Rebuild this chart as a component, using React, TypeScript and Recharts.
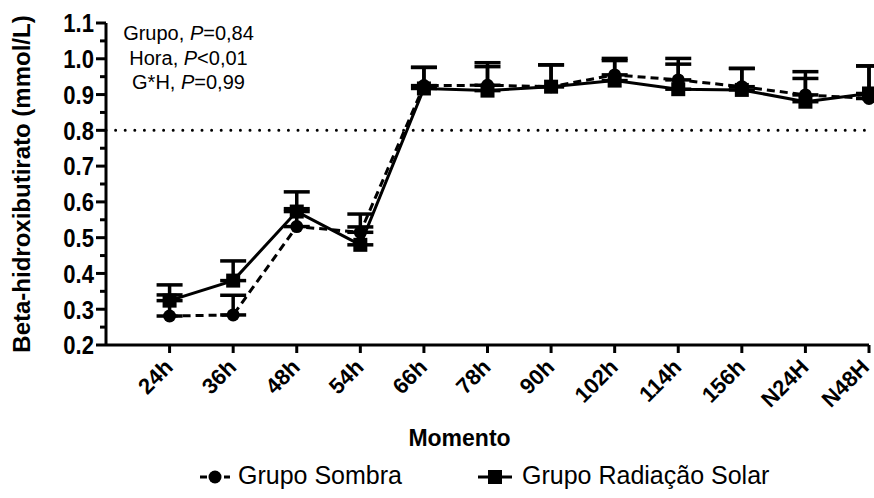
import React from 'react';
import { LineChart, Line, XAxis, YAxis, ReferenceLine, ErrorBar } from 'recharts';

const categories = ['24h', '36h', '48h', '54h', '66h', '78h', '90h', '102h', '114h', '156h', 'N24H', 'N48H'];
const sombra = [0.281, 0.284, 0.531, 0.515, 0.925, 0.926, 0.922, 0.955, 0.941, 0.922, 0.899, 0.889];
const sombraSE = [0.059, 0.055, 0.05, 0.051, 0.051, 0.063, 0.061, 0.046, 0.06, 0.051, 0.065, 0.091];
const solar = [0.324, 0.38, 0.573, 0.48, 0.917, 0.911, 0.922, 0.939, 0.915, 0.913, 0.88, 0.903];
const solarSE = [0.044, 0.055, 0.055, 0.05, 0.059, 0.067, 0.061, 0.056, 0.07, 0.06, 0.065, 0.077];
const yTicks = [0.2, 0.25, 0.3, 0.35, 0.4, 0.45, 0.5, 0.55, 0.6, 0.65, 0.7, 0.75, 0.8, 0.85, 0.9, 0.95, 1.0, 1.05, 1.1];
const xTicks = [1, 2, 3, 4, 5, 6, 7, 8, 9, 10, 11, 12];
const stats = [
    ['Grupo', '=', '0,84'],
    ['Hora', '<', '0,01'],
    ['G*H', '=', '0,99'],
];

const FONT = '"Liberation Sans", Arial, sans-serif';

const data = categories.map((c, i) => ({
    x: i + 1,
    name: c,
    sombra: sombra[i],
    sombraErr: [0, sombraSE[i]],
    solar: solar[i],
    solarErr: [0, solarSE[i]],
}));

// y ticks: long tick + label on tenths, short unlabelled tick in between
const YTick = (props: any) => {
    const { x, y, payload } = props;
    const v = payload.value;
    const major = Math.abs(v * 10 - Math.round(v * 10)) < 1e-6;
    return (
        <g>
            <line x1={major ? x + 2 : x + 6} x2={x + 12} y1={y} y2={y} stroke="#000" strokeWidth={3} />
            {major && (
                <g transform={`translate(${x},${y}) scale(0.92,1.08)`}>
                    <text x={0} y={0} dy="0.36em" textAnchor="end" fontFamily={FONT} fontWeight="bold" fontSize={24} fill="#000">
                        {v.toFixed(1)}
                    </text>
                </g>
            )}
        </g>
    );
};

const XTick = (props: any) => {
    const { x, y, payload } = props;
    return (
        <g transform={`translate(${x - 1},${y + 8}) rotate(-45)`}>
            <text x={0} y={0} dy="0.36em" textAnchor="end" fontFamily={FONT} fontWeight="bold" fontSize={22} fill="#000">
                {categories[payload.value - 1]}
            </text>
        </g>
    );
};

const CircleDot = (props: any) => {
    const { cx, cy, index } = props;
    return <circle key={`c${index}`} cx={cx} cy={cy} r={6.5} fill="#000" />;
};

const SquareDot = (props: any) => {
    const { cx, cy, index } = props;
    return <rect key={`s${index}`} x={cx - 7} y={cy - 7} width={14} height={14} fill="#000" />;
};

export default function App() {
    return (
        <div style={{ position: 'absolute', left: 0, top: 0, width: 874, height: 498, background: '#fff', fontFamily: FONT }}>
            <LineChart width={874} height={498} data={data} margin={{ top: 23, right: 5, left: 0, bottom: 0 }}>
                <XAxis
                    type="number"
                    dataKey="x"
                    domain={[0, 12]}
                    ticks={xTicks}
                    height={153}
                    tick={<XTick />}
                    tickSize={8}
                    tickMargin={2}
                    axisLine={{ stroke: '#000', strokeWidth: 3 }}
                    tickLine={{ stroke: '#000', strokeWidth: 3 }}
                    label={{ value: 'Momento', position: 'insideBottom', offset: 52, dx: -28, fill: '#000', fontWeight: 'bold', fontSize: 23, fontFamily: FONT }}
                />
                <YAxis
                    type="number"
                    domain={[0.2, 1.1]}
                    ticks={yTicks}
                    interval={0}
                    width={106}
                    tick={<YTick />}
                    tickSize={10}
                    tickMargin={2}
                    axisLine={{ stroke: '#000', strokeWidth: 3 }}
                    tickLine={{ stroke: 'none' }}
                    label={{ value: 'Beta-hidroxibutirato (mmol/L)', angle: -90, position: 'insideLeft', offset: 21, fill: '#000', fontWeight: 'bold', fontSize: 24, fontFamily: FONT, style: { textAnchor: 'middle' } }}
                />
                <ReferenceLine y={0.8} stroke="#000" strokeWidth={3} strokeDasharray="0 9.6" strokeLinecap="round" />
                <Line
                    dataKey="sombra"
                    stroke="#000"
                    strokeWidth={3}
                    strokeDasharray="8 5"
                    dot={<CircleDot />}
                    activeDot={false}
                    isAnimationActive={false}
                >
                    <ErrorBar dataKey="sombraErr" direction="y" width={13} stroke="#000" strokeWidth={3.5} isAnimationActive={false} />
                </Line>
                <Line
                    dataKey="solar"
                    stroke="#000"
                    strokeWidth={3}
                    dot={<SquareDot />}
                    activeDot={false}
                    isAnimationActive={false}
                >
                    <ErrorBar dataKey="solarErr" direction="y" width={13} stroke="#000" strokeWidth={3.5} isAnimationActive={false} />
                </Line>
            </LineChart>
            <div style={{ position: 'absolute', left: 110, top: 21, width: 157, textAlign: 'center', fontSize: 20, lineHeight: '24.5px', color: '#000' }}>
                {stats.map(([g, op, p]) => (
                    <div key={g}>
                        {g}, <i>P</i>{op}{p}
                    </div>
                ))}
            </div>
            <div style={{ position: 'absolute', left: 0, top: 461, width: 874, height: 32, fontSize: 25, color: '#000' }}>
                <svg style={{ position: 'absolute', left: 200, top: 6 }} width={30} height={20}>
                    <line x1={0} x2={30} y1={10} y2={10} stroke="#000" strokeWidth={3} strokeDasharray="7 5" />
                    <circle cx={15} cy={10} r={6.5} fill="#000" />
                </svg>
                <span style={{ position: 'absolute', left: 238, top: 0, whiteSpace: 'nowrap' }}>Grupo Sombra</span>
                <svg style={{ position: 'absolute', left: 478, top: 6 }} width={34} height={20}>
                    <line x1={0} x2={34} y1={10} y2={10} stroke="#000" strokeWidth={3} />
                    <rect x={10} y={3} width={14} height={14} fill="#000" />
                </svg>
                <span style={{ position: 'absolute', left: 522, top: 0, whiteSpace: 'nowrap' }}>Grupo Radiação Solar</span>
            </div>
        </div>
    );
}
